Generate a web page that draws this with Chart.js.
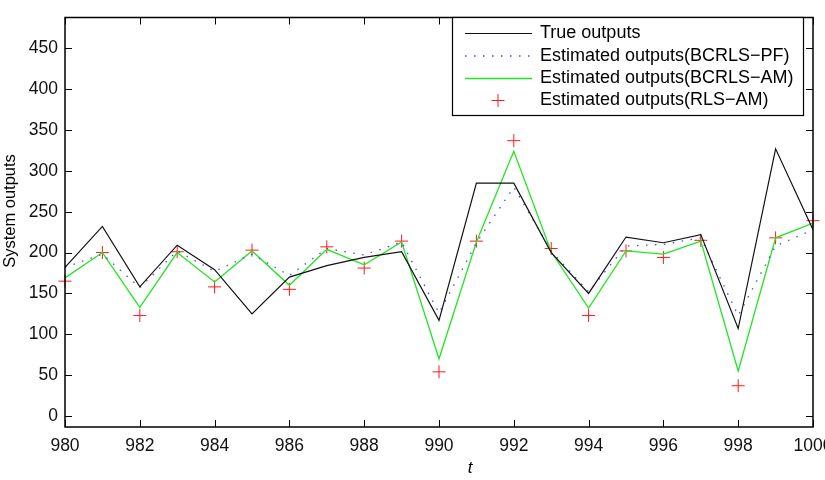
<!DOCTYPE html>
<html>
<head>
<meta charset="utf-8">
<script src="https://cdn.jsdelivr.net/npm/chart.js@4.4.1/dist/chart.umd.min.js"></script>
<style>
    html, body { margin: 0; padding: 0; background: #fff; overflow: hidden; }
    #wrap { width: 825px; height: 480px; }
</style>
</head>
<body>
<div id="wrap"><canvas id="outChart" width="825" height="480"></canvas></div>
<script>
// time axis
const timeSteps = [980, 981, 982, 983, 984, 985, 986, 987, 988, 989, 990,
                   991, 992, 993, 994, 995, 996, 997, 998, 999, 1000];

// series
const trueOutputs = [182, 232, 158, 209, 179, 125, 170, 184, 194, 201, 117,
                     285, 285, 200, 150, 219, 212, 222, 107, 327, 228];
const bcrlsPF     = [182, 198, 157, 202, 177, 198, 172, 205, 197, 213, 126,
                     212, 280, 202, 152, 208, 210, 218, 123, 208, 228];
const bcrlsAM     = [169, 200, 133, 200, 164, 202, 160, 204, 185, 213, 70,
                     213, 324, 201, 132, 202, 198, 214, 55, 218, 236];
const rlsAM       = [165, 200, 123, 201, 158, 203, 155, 207, 181, 214, 54,
                     214, 337, 205, 123, 202, 194, 215, 37, 218, 239];

const xTickValues = [980, 982, 984, 986, 988, 990, 992, 994, 996, 998, 1000];
const yTickValues = [0, 50, 100, 150, 200, 250, 300, 350, 400, 450];

const legendLabels = ['True outputs', 'Estimated outputs(BCRLS\u2212PF)',
                      'Estimated outputs(BCRLS\u2212AM)', 'Estimated outputs(RLS\u2212AM)'];

const FONT = '"Liberation Sans", Arial, sans-serif';
Chart.defaults.font.family = FONT;

const toPoints = arr => arr.map((v, i) => ({ x: timeSteps[i], y: v }));

// frame, inward ticks, axis titles, legend box
const framePlugin = {
    id: 'frame',
    afterDraw(chart) {
        const { ctx, chartArea: a, scales } = chart;
        const xs = scales.x, ys = scales.y;
        ctx.save();
        ctx.strokeStyle = '#000';
        ctx.lineWidth = 1.5;
        ctx.strokeRect(a.left, a.top, a.right - a.left, a.bottom - a.top);

        ctx.lineWidth = 1;
        ctx.beginPath();
        yTickValues.forEach(v => {
            const p = Math.round(ys.getPixelForValue(v)) + 0.5;
            ctx.moveTo(a.left, p); ctx.lineTo(a.left + 7, p);
            ctx.moveTo(a.right, p); ctx.lineTo(a.right - 7, p);
        });
        xTickValues.forEach(v => {
            const p = Math.round(xs.getPixelForValue(v)) + 0.5;
            ctx.moveTo(p, a.bottom); ctx.lineTo(p, a.bottom - 7);
            ctx.moveTo(p, a.top); ctx.lineTo(p, a.top + 7);
        });
        ctx.stroke();

        // axis titles
        ctx.fillStyle = '#000';
        ctx.textAlign = 'center';
        ctx.textBaseline = 'middle';
        ctx.font = 'italic 17px ' + FONT;
        ctx.fillText('t', 470, 468);
        ctx.save();
        ctx.translate(10, 211);
        ctx.rotate(-Math.PI / 2);
        ctx.font = '16.5px ' + FONT;
        ctx.fillText('System outputs', 0, 0);
        ctx.restore();

        // legend
        const bx = 452, by = 17, bw = 351, bh = 98;
        ctx.fillStyle = '#fff';
        ctx.fillRect(bx, by, bw, bh);
        ctx.strokeStyle = '#000';
        ctx.lineWidth = 1.2;
        ctx.strokeRect(bx + 0.5, by + 0.5, bw, bh);

        const rows = [33.5, 56, 78.5, 100.5];
        chart.data.datasets.forEach((ds, i) => {
            const y = rows[i];
            ctx.save();
            if (ds.showLine === false) {
                ctx.strokeStyle = ds.pointBorderColor;
                ctx.lineWidth = 1;
                ctx.beginPath();
                ctx.moveTo(498 - 6.5, y); ctx.lineTo(498 + 6.5, y);
                ctx.moveTo(498, y - 6.5); ctx.lineTo(498, y + 6.5);
                ctx.stroke();
            } else {
                ctx.strokeStyle = ds.borderColor;
                ctx.lineWidth = ds.borderWidth;
                ctx.setLineDash(ds.borderDash || []);
                ctx.beginPath();
                ctx.moveTo(465, y); ctx.lineTo(532, y);
                ctx.stroke();
            }
            ctx.restore();
            ctx.fillStyle = '#000';
            ctx.textAlign = 'left';
            ctx.textBaseline = 'middle';
            ctx.font = '18px ' + FONT;
            ctx.fillText(legendLabels[i], 540, y);
        });
        ctx.restore();
    }
};

new Chart(document.getElementById('outChart').getContext('2d'), {
    type: 'line',
    data: {
        datasets: [
            {
                label: legendLabels[0],
                data: toPoints(trueOutputs),
                borderColor: '#111111',
                borderWidth: 1.2,
                pointRadius: 0,
                tension: 0
            },
            {
                label: legendLabels[1],
                data: toPoints(bcrlsPF),
                borderColor: '#4a4ae6',
                borderWidth: 1.3,
                borderDash: [1.5, 7.5],
                pointRadius: 0,
                tension: 0
            },
            {
                label: legendLabels[2],
                data: toPoints(bcrlsAM),
                borderColor: '#22e622',
                borderWidth: 1.3,
                pointRadius: 0,
                tension: 0
            },
            {
                label: legendLabels[3],
                data: toPoints(rlsAM),
                showLine: false,
                pointStyle: 'cross',
                pointRadius: 6.5,
                pointBorderWidth: 1,
                pointBorderColor: '#ff1a1a',
                pointBackgroundColor: '#ff1a1a',
                clip: false
            }
        ]
    },
    options: {
        responsive: false,
        animation: false,
        layout: { padding: { top: 6, right: 12, left: 0, bottom: 0 } },
        plugins: {
            legend: { display: false },
            tooltip: { enabled: false }
        },
        scales: {
            x: {
                type: 'linear',
                min: 980,
                max: 1000,
                afterBuildTicks: s => { s.ticks = xTickValues.map(v => ({ value: v })); },
                afterFit: s => { s.height = 53; s.paddingLeft = 0; s.paddingRight = 0; },
                grid: { display: true, drawOnChartArea: false, drawTicks: false },
                border: { display: false },
                ticks: {
                    color: '#111', font: { size: 17.5 }, padding: 9, maxRotation: 0, autoSkip: false,
                    callback: v => String(v)
                }
            },
            y: {
                min: -13.5,
                max: 487.7,
                afterBuildTicks: s => { s.ticks = yTickValues.map(v => ({ value: v })); },
                afterFit: s => { s.width = 65; },
                grid: { display: true, drawOnChartArea: false, drawTicks: false },
                border: { display: false },
                ticks: { color: '#111', font: { size: 17.5 }, padding: 7, callback: v => String(v) }
            }
        }
    },
    plugins: [framePlugin]
});
</script>
</body>
</html>
